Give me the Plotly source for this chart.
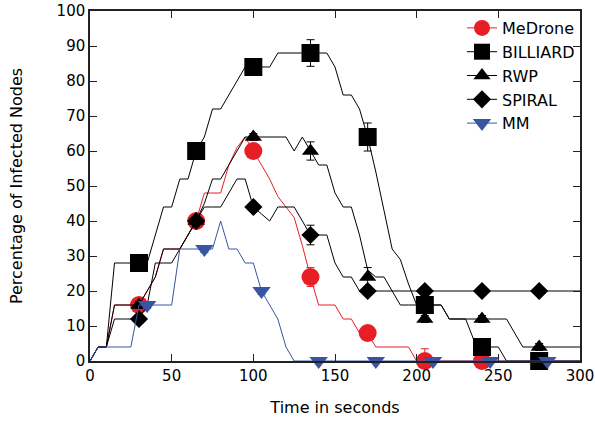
import plotly.graph_objects as go

# ---- data ----
t = list(range(0, 301, 5))

medrone_line = [0, 4, 4, 16, 16, 16, 16, 20, 24, 32, 32, 32, 36, 40, 48, 48, 48, 56, 61, 64,
                60, 56, 52, 47, 44, 41, 33, 24, 16, 16, 16, 12, 12, 8, 8, 4, 4, 4, 4, 4,
                0] + [0] * 20
billiard_line = [0, 4, 4, 28, 28, 28, 28, 28, 36, 44, 44, 52, 52, 60, 64, 72, 72, 76, 80, 84,
                 84, 84, 84, 88, 88, 88, 88, 88, 88, 88, 84, 76, 76, 72, 64, 54, 43, 32, 29, 22,
                 16, 16, 16, 16, 12, 12, 12, 6, 4, 4, 4, 0] + [0] * 9
rwp_line = [0, 4, 4, 16, 16, 16, 16, 20, 24, 32, 32, 32, 36, 40, 45, 52, 52, 56, 60, 64,
            64, 64, 64, 64, 64, 60, 64, 60, 56, 56, 48, 44, 44, 36, 26, 24, 24, 20, 16, 16,
            16, 16, 16, 16, 12, 12, 12, 12, 12, 12, 12, 12, 8, 4] + [4] * 7
spiral_line = [0, 4, 4, 12, 12, 12, 12, 16, 28, 28, 28, 32, 36, 40, 44, 44, 44, 48, 52, 52,
               44, 42, 40, 44, 44, 44, 40, 36, 36, 36, 28, 24, 24, 20] + [20] * 27
mm_line = [0, 4, 4, 4, 4, 4, 16, 16, 16, 16, 16, 32, 32, 32, 32, 32, 40, 32, 32, 28,
           28, 20, 16, 12, 4, 0] + [0] * 35

mark_t = [30, 65, 100, 135, 170, 205, 240, 275]
mm_mark_t = [35, 70, 105, 140, 175, 210, 245, 280]

medrone_mark = [16, 40, 60, 24, 8, 0, 0, 0]
medrone_err = [1, 1, 1, 2.7, 2, 3.5, 1, 1]
billiard_mark = [28, 60, 84, 88, 64, 16, 4, 0]
billiard_err = [1, 1, 1, 3.8, 4, 1, 1, 1]
rwp_mark = [16, 40, 64, 60, 24, 12, 12, 4]
rwp_err = [1, 1, 1, 2.6, 2.7, 1, 1, 1]
spiral_mark = [12, 40, 44, 36, 20, 20, 20, 20]
spiral_err = [1, 1, 1, 2.8, 1, 1, 1, 1]
mm_mark = [16, 32, 20, 0, 0, 0, 0, 0]
mm_err = [1, 1, 1, 1, 1, 1, 1, 1]

names = ["MeDrone", "BILLIARD", "RWP", "SPIRAL", "MM"]
x_ticks = [0, 50, 100, 150, 200, 250, 300]
y_ticks = list(range(0, 101, 10))

# ---- styles ----
RED = "rgb(232,30,38)"
BLUE = "rgb(58,84,164)"
BLACK = "black"
series = [
    (names[0], t, medrone_line, mark_t, medrone_mark, medrone_err, RED, "circle", 18),
    (names[1], t, billiard_line, mark_t, billiard_mark, billiard_err, BLACK, "square", 18),
    (names[2], t, rwp_line, mark_t, rwp_mark, rwp_err, BLACK, "triangle-up", 15),
    (names[3], t, spiral_line, mark_t, spiral_mark, spiral_err, BLACK, "diamond", 14),
    (names[4], t, mm_line, mm_mark_t, mm_mark, mm_err, BLUE, "triangle-down", 16),
]

fig = go.Figure()
for name, lx, ly, mx, my, me, col, sym, sz in series:
    fig.add_trace(go.Scatter(x=lx, y=ly, mode="lines", line=dict(color=col, width=1),
                             legendgroup=name, showlegend=False, hoverinfo="skip"))
    fig.add_trace(go.Scatter(x=mx, y=my, mode="markers",
                             marker=dict(color=col, symbol=sym, size=sz, line=dict(width=0)),
                             error_y=dict(type="data", array=me, color=col, thickness=1, width=4),
                             cliponaxis=False, legendgroup=name, showlegend=False))
    fig.add_trace(go.Scatter(x=[None], y=[None], mode="lines+markers", name=name,
                             line=dict(color=col, width=1),
                             marker=dict(color=col, symbol=sym, size=sz, line=dict(width=0)),
                             legendgroup=name))

font = "DejaVu Sans"
fig.update_layout(
    width=595, height=422,
    margin=dict(l=90, r=15, t=11, b=61, autoexpand=False),
    plot_bgcolor="white", paper_bgcolor="white",
    font=dict(family=font, size=15, color="black"),
    showlegend=True,
    legend=dict(x=1.0, y=1.0, xanchor="right", yanchor="top",
                bgcolor="rgba(0,0,0,0)", font=dict(size=16), tracegroupgap=0,
                itemsizing="trace"),
)
axis_common = dict(showline=True, linecolor="#222", linewidth=1.5, mirror="ticks",
                   ticks="inside", ticklen=7, tickwidth=1, tickcolor="#222",
                   showgrid=False, zeroline=False, automargin=False)
fig.update_xaxes(range=[0, 300], tickvals=x_ticks,
                 title=dict(text="Time in seconds", font=dict(size=16), standoff=18),
                 **axis_common)
fig.update_yaxes(range=[0, 100], tickvals=y_ticks,
                 title=dict(text="Percentage of Infected Nodes", font=dict(size=16), standoff=30),
                 **axis_common)

fig.write_html("out.html")
